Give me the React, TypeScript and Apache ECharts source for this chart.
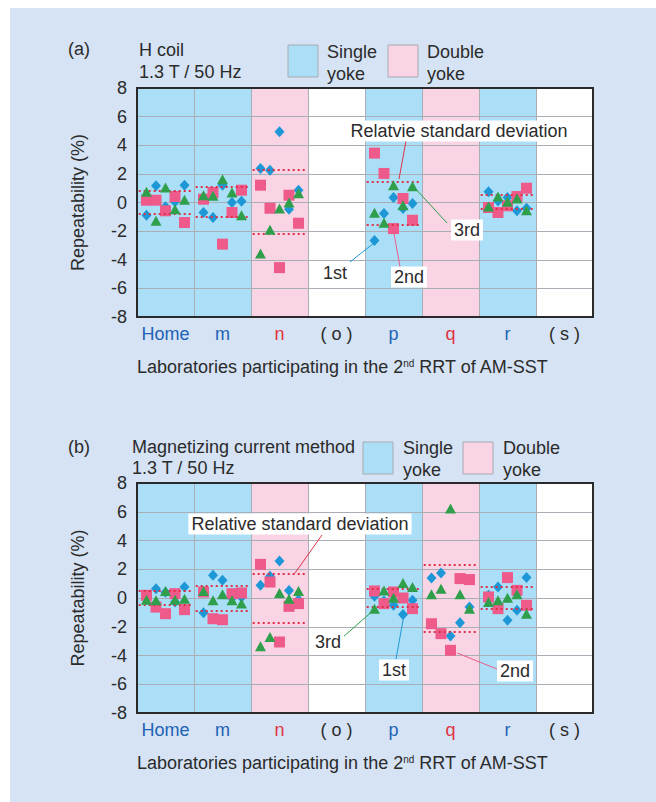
import React, { useEffect, useRef } from "react";
import * as echarts from "echarts";

const FONT = '"Liberation Sans", Arial, Helvetica, sans-serif';

const labs = ["Home", "m", "n", "( o )", "p", "q", "r", "( s )"];
const labStyle = ["b", "b", "r", "k", "b", "r", "b", "k"];
const yokeType = ["single", "single", "double", "none", "single", "double", "single", "none"];
const yMin = -8;
const yMax = 8;
const yStep = 2;

// (a) H coil — values per laboratory, 5 samples each
const aFirst: number[][] = [
  [-0.89, 1.17, -0.3, 0.05, 1.21],
  [-0.7, -1.05, 1.21, 0.0, 0.09],
  [2.38, 2.26, 4.94, -0.47, 0.86],
  [],
  [-2.65, -0.77, 0.35, -0.42, -0.07],
  [],
  [0.75, 0.1, 0.35, -0.58, -0.4],
  [],
];
const aSecond: number[][] = [
  [0.16, 0.16, -0.58, 0.42, -1.4],
  [0.23, 0.7, -2.91, -0.7, 0.86],
  [1.21, -0.4, -4.55, 0.51, -1.45],
  [],
  [3.45, 2.03, -1.82, 0.28, -1.24],
  [],
  [-0.35, -0.7, -0.23, 0.42, 1.0],
  [],
];
const aThird: number[][] = [
  [0.75, -1.28, 1.05, -0.47, 0.19],
  [0.51, 0.47, 1.63, 0.7, -0.89],
  [-3.57, -1.91, -0.42, 0.0, 0.65],
  [],
  [-0.72, -1.42, 1.21, -0.19, 1.14],
  [],
  [-0.28, 0.42, 0.05, 0.28, -0.54],
  [],
];
const aRsdUpper: (number | null)[] = [0.79, 1.1, 2.28, null, 1.47, null, 0.51, null];
const aRsdLower: (number | null)[] = [-0.82, -1.03, -2.21, null, -1.52, null, -0.47, null];

// (b) Magnetizing current method
const bFirst: number[][] = [
  [0.1, 0.65, 0.4, -0.28, 0.77],
  [-1.02, 1.58, 1.23, 0.0, 0.05],
  [0.88, 1.51, 2.58, 0.53, -0.12],
  [],
  [0.12, -0.2, -0.51, -1.14, -0.16],
  [1.39, 1.74, -2.65, -1.72, -0.63],
  [0.19, 0.77, -1.55, -0.86, 1.42],
  [],
];
const bSecond: number[][] = [
  [0.19, -0.63, -1.09, 0.3, -0.81],
  [0.42, -1.44, -1.51, 0.3, 0.35],
  [2.34, 1.11, -3.06, -0.58, -0.39],
  [],
  [0.49, -0.39, 0.42, 0.0, -0.74],
  [-1.79, -2.48, -3.64, 1.35, 1.28],
  [0.07, -0.74, 1.42, 0.53, -0.51],
  [],
];
const bThird: number[][] = [
  [-0.12, -0.16, 0.49, -0.12, -0.05],
  [0.49, -0.16, 0.26, -0.16, -0.39],
  [-3.36, -2.71, 0.35, -0.05, 0.49],
  [],
  [-0.74, 0.53, 0.02, 1.04, 0.77],
  [0.26, 0.65, 6.22, 0.26, -0.74],
  [-0.28, -0.16, 0.02, 0.26, -1.09],
  [],
];
const bRsdUpper: (number | null)[] = [0.53, 0.84, 1.69, null, 0.65, 2.34, 0.81, null];
const bRsdLower: (number | null)[] = [-0.48, -0.86, -1.74, null, -0.58, -2.32, -0.74, null];

const C_BLUE = "#1e97d6";
const C_PINK = "#ee5a8a";
const C_GREEN = "#2f9f4b";
const C_RED = "#de3148";
const C_TEXT = "#2b2b2b";
const C_SINGLE = "#abdff7";
const C_DOUBLE = "#f8d4e4";
const C_GRID = "#a9adb4";

function pts(vals: number[][]) {
  const out: number[][] = [];
  vals.forEach((arr, i) =>
    arr.forEach((v, k) => out.push([i + (k + 1) / 6, v]))
  );
  return out;
}

function rsdLines(up: (number | null)[], lo: (number | null)[]) {
  const out: any[] = [];
  up.forEach((u, i) => {
    if (u !== null) out.push([{ coord: [i + 0.03, u] }, { coord: [i + 0.97, u] }]);
    const l = lo[i];
    if (l !== null) out.push([{ coord: [i + 0.03, l] }, { coord: [i + 0.97, l] }]);
  });
  return out;
}

function makeAxes(gridIndex: number) {
  return {
    x: [
      {
        type: "category",
        gridIndex,
        data: labs,
        boundaryGap: true,
        axisLine: { show: false },
        axisTick: { show: false, interval: 0 },
        axisLabel: {
          interval: 0,
          margin: 8,
          fontSize: 18,
          fontFamily: FONT,
          formatter: (v: string, idx: number) => `{${labStyle[idx]}|${v}}`,
          rich: {
            b: { color: "#2062b5", fontSize: 18, fontFamily: FONT },
            r: { color: "#e1323f", fontSize: 18, fontFamily: FONT },
            k: { color: C_TEXT, fontSize: 18, fontFamily: FONT },
          },
        },
        splitLine: { show: true, interval: 0, lineStyle: { color: C_GRID, width: 1 } },
        z: 2,
      },
      { type: "value", gridIndex, min: 0, max: 8, show: false },
    ],
    y: {
      type: "value",
      gridIndex,
      min: yMin,
      max: yMax,
      interval: yStep,
      axisLine: { show: false },
      axisTick: { show: false },
      axisLabel: { fontSize: 18, color: C_TEXT, margin: 10, fontFamily: FONT },
      splitLine: { show: true, lineStyle: { color: C_GRID, width: 1 } },
      z: 2,
      name: "Repeatability (%)",
      nameLocation: "middle",
      nameGap: 50,
      nameRotate: 90,
      nameTextStyle: { fontSize: 18, color: C_TEXT, fontFamily: FONT },
    },
  };
}

function makeSeries(gi: number, first: number[][], second: number[][], third: number[][], up: (number | null)[], lo: (number | null)[]) {
  const xi = gi * 2 + 1;
  return [
    {
      type: "custom",
      xAxisIndex: xi,
      yAxisIndex: gi,
      z: 1,
      silent: true,
      data: labs.map((_, i) => [i, 0]),
      renderItem: (params: any, api: any) => {
        const i = api.value(0);
        const t = yokeType[i];
        if (t === "none") return null;
        const p0 = api.coord([i, yMax]);
        const p1 = api.coord([i + 1, yMin]);
        return {
          type: "rect",
          shape: { x: p0[0], y: p0[1], width: p1[0] - p0[0], height: p1[1] - p0[1] },
          style: { fill: t === "single" ? C_SINGLE : C_DOUBLE },
        };
      },
    },
    {
      type: "scatter",
      name: "1st",
      xAxisIndex: xi,
      yAxisIndex: gi,
      z: 3,
      symbol: "diamond",
      symbolSize: [10, 11],
      itemStyle: { color: C_BLUE, opacity: 1 },
      data: pts(first),
      markLine: {
        silent: true,
        symbol: ["none", "none"],
        label: { show: false },
        lineStyle: { color: C_RED, type: [2, 3], width: 2 },
        data: rsdLines(up, lo),
      },
    },
    {
      type: "scatter",
      name: "2nd",
      xAxisIndex: xi,
      yAxisIndex: gi,
      z: 4,
      symbol: "rect",
      symbolSize: 11,
      itemStyle: { color: C_PINK, opacity: 1 },
      data: pts(second),
    },
    {
      type: "scatter",
      name: "3rd",
      xAxisIndex: xi,
      yAxisIndex: gi,
      z: 5,
      symbol: "triangle",
      symbolSize: [11, 10],
      itemStyle: { color: C_GREEN, opacity: 1 },
      data: pts(third),
    },
  ];
}

function txt(text: string, x: number, y: number, extra: any = {}) {
  return {
    type: "text",
    x,
    y,
    z: 120,
    silent: true,
    style: {
      text,
      fontSize: 18,
      fontFamily: FONT,
      fill: C_TEXT,
      align: extra.align || "left",
      textAlign: extra.align || "left",
      verticalAlign: "middle",
      textVerticalAlign: "middle",
      ...(extra.rich ? { rich: extra.rich } : {}),
      ...(extra.box ? { backgroundColor: "#ffffff", padding: [2, 3, 1, 3] } : {}),
    },
  };
}

const titleRich = {
  sup: { fontSize: 10, fill: C_TEXT, fontFamily: FONT, verticalAlign: "top", padding: [0, 0, 7, 0] },
};

function ln(x1: number, y1: number, x2: number, y2: number, color: string) {
  return {
    type: "line",
    z: 110,
    silent: true,
    shape: { x1, y1, x2, y2 },
    style: { stroke: color, lineWidth: 1 },
  };
}

function legendBox(x: number, y: number, fill: string) {
  return {
    type: "rect",
    z: 110,
    silent: true,
    shape: { x, y, width: 30, height: 32 },
    style: { fill, stroke: "#a8aab0", lineWidth: 1 },
  };
}

export default function App() {
  const ref = useRef<HTMLDivElement>(null);
  useEffect(() => {
    document.body.style.margin = "0";
    if (!ref.current) return;
    const chart = echarts.init(ref.current, undefined, { renderer: "svg" });
    const a0 = makeAxes(0);
    const a1 = makeAxes(1);
    const title = "Laboratories participating in the 2{sup|nd} RRT of AM-SST";
    chart.setOption({
      animation: false,
      backgroundColor: "transparent",
      textStyle: { fontFamily: FONT },
      grid: [
        { left: 137, top: 88, width: 456, height: 229, show: true, backgroundColor: "#ffffff", borderWidth: 0 },
        { left: 137, top: 483, width: 456, height: 230, show: true, backgroundColor: "#ffffff", borderWidth: 0 },
      ],
      xAxis: [...a0.x, ...a1.x],
      yAxis: [a0.y, a1.y],
      series: [
        ...makeSeries(0, aFirst, aSecond, aThird, aRsdUpper, aRsdLower),
        ...makeSeries(1, bFirst, bSecond, bThird, bRsdUpper, bRsdLower),
      ],
      graphic: [
        // plot borders
        { type: "rect", z: 130, silent: true, shape: { x: 137, y: 88, width: 456, height: 229 }, style: { fill: "none", stroke: "#2a2a2a", lineWidth: 2 } },
        { type: "rect", z: 130, silent: true, shape: { x: 137, y: 483, width: 456, height: 230 }, style: { fill: "none", stroke: "#2a2a2a", lineWidth: 2 } },
        // axis titles
        txt(title, 137, 367, { rich: titleRich }),
        txt(title, 137, 763, { rich: titleRich }),
        // header (a)
        txt("(a)", 68, 49),
        txt("H coil", 139, 50),
        txt("1.3 T / 50 Hz", 139, 72),
        legendBox(288, 45, C_SINGLE),
        txt("Single", 327, 52),
        txt("yoke", 327, 74),
        legendBox(388, 45, C_DOUBLE),
        txt("Double", 427, 52),
        txt("yoke", 427, 74),
        // header (b)
        txt("(b)", 68, 447),
        txt("Magnetizing current method", 132, 447),
        txt("1.3 T / 50 Hz", 132, 468),
        legendBox(363, 442, C_SINGLE),
        txt("Single", 403, 448),
        txt("yoke", 403, 470),
        legendBox(463, 442, C_DOUBLE),
        txt("Double", 503, 448),
        txt("yoke", 503, 470),
        // annotations (a)
        ln(406, 141, 399, 179, C_RED),
        txt("Relatvie standard deviation", 459, 131, { align: "center", box: true }),
        ln(413, 186, 447, 223, C_GREEN),
        txt("3rd", 467, 230, { align: "center", box: true }),
        ln(393, 228, 400, 267, C_PINK),
        txt("2nd", 409, 277, { align: "center", box: true }),
        ln(374, 243, 350, 262, C_BLUE),
        txt("1st", 335, 273, { align: "center", box: true }),
        // annotations (b)
        ln(322, 535, 295, 573, C_RED),
        txt("Relative standard deviation", 300, 524, { align: "center", box: true }),
        ln(343, 637, 375, 609, C_GREEN),
        txt("3rd", 328, 642, { align: "center", box: true }),
        ln(396, 659, 404, 615, C_BLUE),
        txt("1st", 394, 670, { align: "center", box: true }),
        ln(457, 653, 497, 669, C_PINK),
        txt("2nd", 515, 671, { align: "center", box: true }),
      ],
    });
    return () => chart.dispose();
  }, []);
  return (
    <div style={{ width: 656, height: 802, position: "relative", background: "#ffffff" }}>
      <div
        ref={ref}
        style={{
          position: "absolute",
          left: 0,
          top: 0,
          width: 656,
          height: 802,
          background: "linear-gradient(#d5e3f4, #d5e3f4) 10px 8px / 646px 794px no-repeat",
        }}
      />
    </div>
  );
}
